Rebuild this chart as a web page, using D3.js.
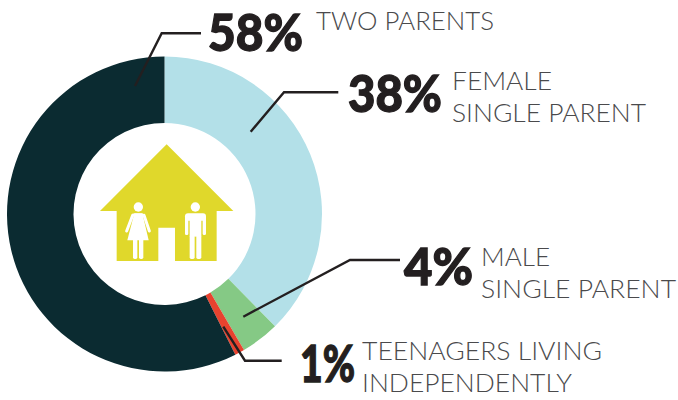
<!DOCTYPE html>
<html>
<head>
<meta charset="utf-8">
<script src="https://cdn.jsdelivr.net/npm/d3@7"></script>
<style>
html, body { margin: 0; padding: 0; background: #fff; }
svg { display: block; }
.pct { font-family: Lato, sans-serif; font-weight: 900; fill: #231f20; stroke: #231f20; stroke-width: 1.3px; }
.lbl { font-family: Lato, sans-serif; font-weight: 300; fill: #4a4a4c; }
</style>
</head>
<body>
<script>
// slices run clockwise from 12 o'clock
var categories = ["Female single parent", "Male single parent", "Teenagers living independently", "Two parents"];
var values = [38, 4, 1, 58];
var colors = ["#b3e0e8", "#85c985", "#e8432f", "#0b2b31"];
var pctLabels = ["38%", "4%", "1%", "58%"];
var descLines = [["FEMALE", "SINGLE PARENT"], ["MALE", "SINGLE PARENT"], ["TEENAGERS LIVING", "INDEPENDENTLY"], ["TWO PARENTS"]];

var width = 678, height = 400;
var cx = 164.5, cy = 214, outer = 157.5, inner = 91;

// callout layout, same order as the slices. pw / tw = measured text widths
var layout = [
	{line: [[250.7,131.7],[284,92.3],[338.3,92.3]], px: 348, py: 112, pw: 94, tx: 452, ty: 90, tw: [100, 194]},
	{line: [[243.3,316.7],[350,260],[400,260]], px: 404, py: 285, pw: 69, tx: 481, ty: 266, tw: [69, 195]},
	{line: [[223.3,326.7],[245,360.7],[281.7,360.7]], px: 300, py: 382, pw: 55, tx: 362, ty: 360, tw: [240, 210]},
	{line: [[135,86],[161.7,33.3],[201,33.3]], px: 208, py: 51, pw: 95, tx: 316, ty: 30, tw: [178]}
];

var svg = d3.select("body").append("svg")
	.attr("width", width)
	.attr("height", height);

var pie = d3.pie().sort(null);
var arc = d3.arc().innerRadius(inner).outerRadius(outer);

svg.append("g")
	.attr("transform", "translate(" + cx + "," + cy + ")")
	.selectAll("path")
	.data(pie(values))
	.enter().append("path")
	.attr("d", arc)
	.attr("fill", function(d, i) { return colors[i]; })
	.append("title")
	.text(function(d, i) { return categories[i]; });

// house icon, drawn in 3x units
var icon = svg.append("g").attr("transform", "translate(90,135) scale(0.3333)");
icon.append("path")
	.attr("fill", "#e0d82b")
	.attr("d", "M230,28 L430,228 L380,228 L380,378 L255,378 L255,278 L205,278 L205,378 L80,378 L80,228 L30,228 Z");

var woman = icon.append("g").attr("fill", "#fff");
woman.append("circle").attr("cx", 145).attr("cy", 216).attr("r", 14);
woman.append("path").attr("d", "M133,235 L157,235 L176,316 L112,316 Z");
woman.append("path").attr("d", "M130,240 L158,240 M128,241 L110,288 M162,241 L178,288")
	.attr("fill", "none").attr("stroke", "#fff").attr("stroke-width", 9).attr("stroke-linecap", "round");
woman.append("rect").attr("x", 129).attr("y", 310).attr("width", 13).attr("height", 62).attr("rx", 5);
woman.append("rect").attr("x", 147).attr("y", 310).attr("width", 13).attr("height", 62).attr("rx", 5);

var man = icon.append("g").attr("fill", "#fff");
man.append("circle").attr("cx", 316).attr("cy", 216).attr("r", 14);
man.append("rect").attr("x", 285).attr("y", 235).attr("width", 63).attr("height", 22).attr("rx", 9);
man.append("rect").attr("x", 285).attr("y", 245).attr("width", 10).attr("height", 55).attr("rx", 4);
man.append("rect").attr("x", 338).attr("y", 245).attr("width", 10).attr("height", 55).attr("rx", 4);
man.append("rect").attr("x", 299).attr("y", 240).attr("width", 35).attr("height", 65);
man.append("rect").attr("x", 299).attr("y", 300).attr("width", 15).attr("height", 72).attr("rx", 5);
man.append("rect").attr("x", 319).attr("y", 300).attr("width", 15).attr("height", 72).attr("rx", 5);

// leader lines
var line = d3.line();
svg.append("g").selectAll("path")
	.data(layout)
	.enter().append("path")
	.attr("d", function(d) { return line(d.line); })
	.attr("fill", "none")
	.attr("stroke", "#231f20")
	.attr("stroke-width", 2.4);

svg.append("g").selectAll("text")
	.data(pctLabels)
	.enter().append("text")
	.attr("class", "pct")
	.attr("font-size", 52)
	.attr("x", function(d, i) { return layout[i].px; })
	.attr("y", function(d, i) { return layout[i].py; })
	.attr("textLength", function(d, i) { return layout[i].pw; })
	.attr("lengthAdjust", "spacingAndGlyphs")
	.text(function(d) { return d; });

descLines.forEach(function(lines, i) {
	lines.forEach(function(s, j) {
		svg.append("text")
			.attr("class", "lbl")
			.attr("font-size", 26)
			.attr("x", layout[i].tx)
			.attr("y", layout[i].ty + j * 31.5)
			.attr("textLength", layout[i].tw[j])
			.attr("lengthAdjust", "spacingAndGlyphs")
			.text(s);
	});
});
</script>
</body>
</html>
